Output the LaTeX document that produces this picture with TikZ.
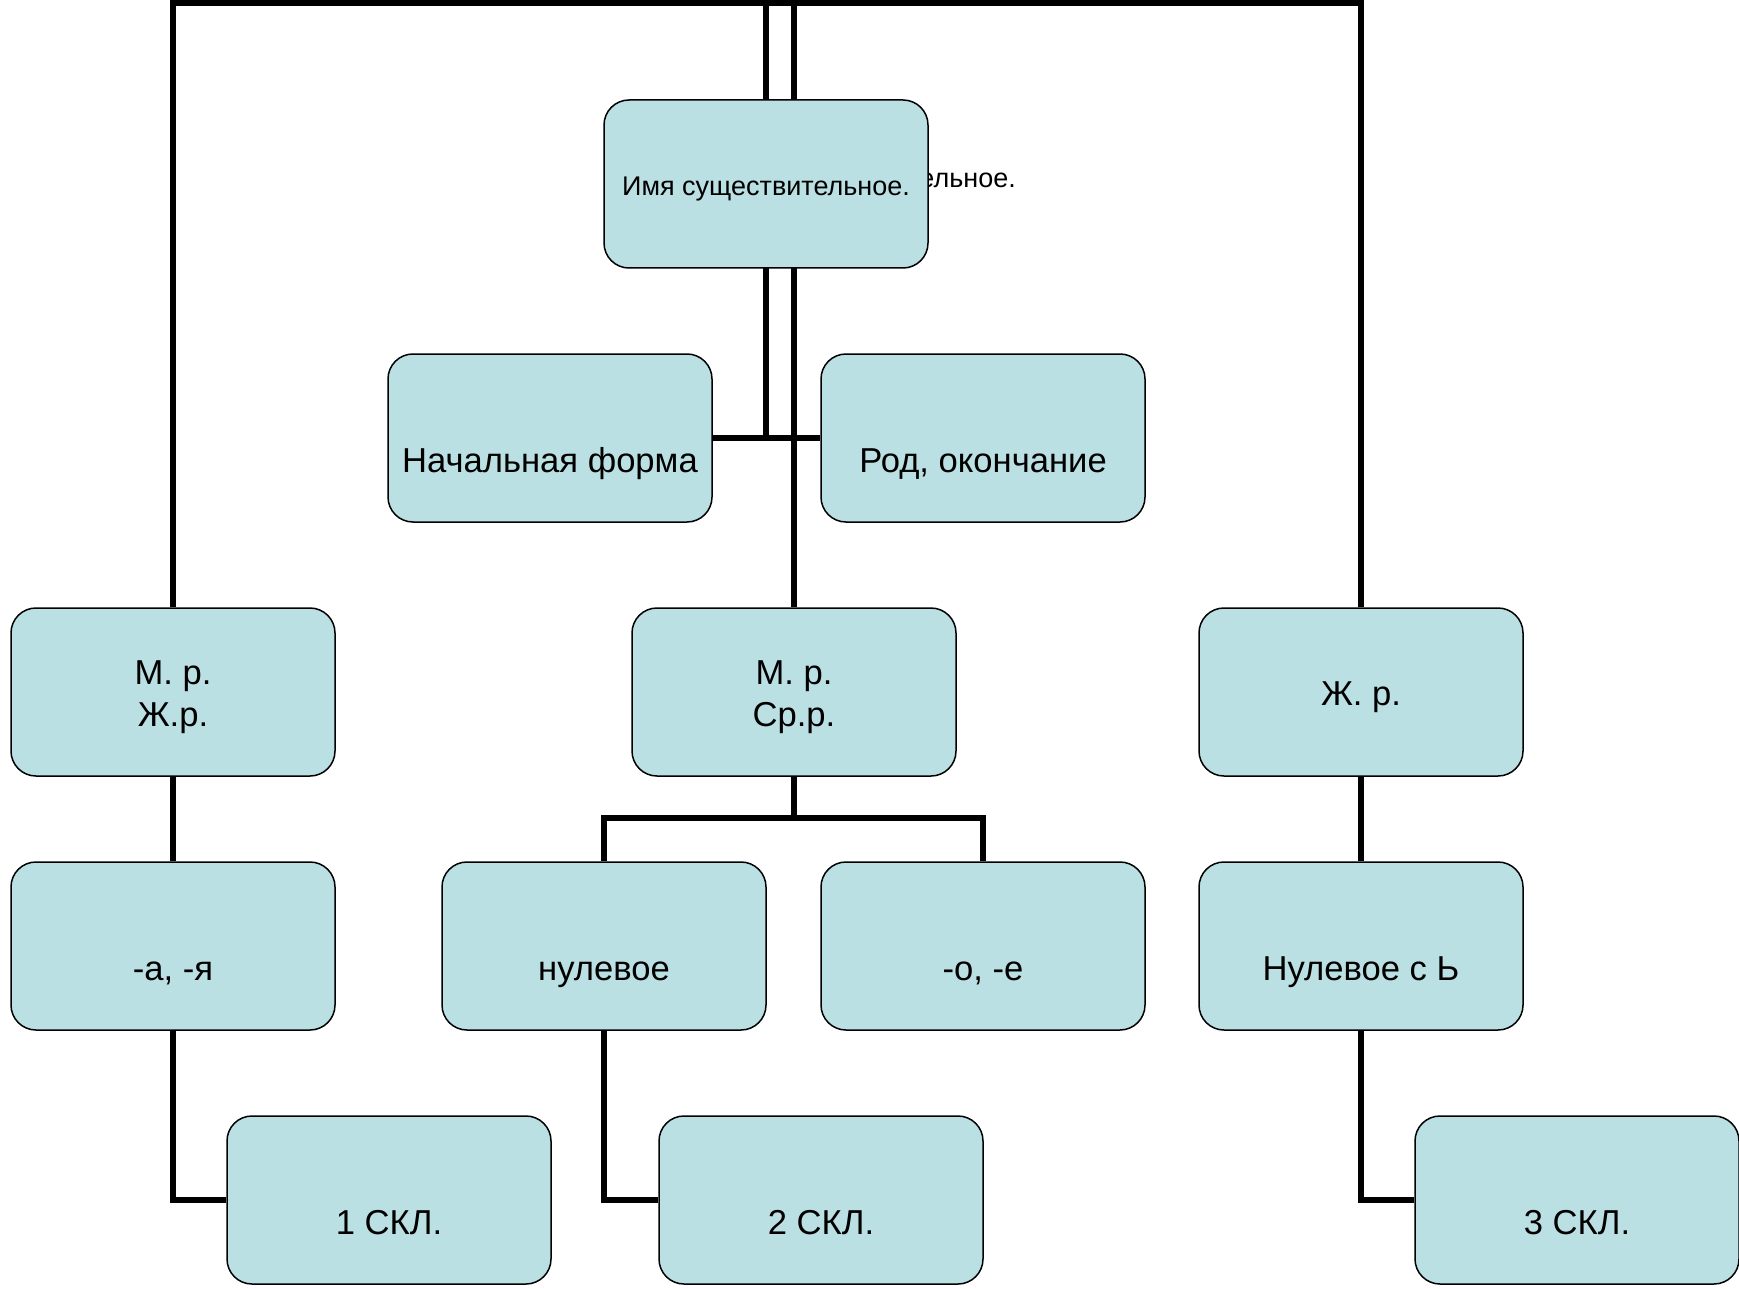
\documentclass[tikz,border=0pt]{standalone}
\usepackage{fontspec}
\setmainfont{Liberation Sans}
\usetikzlibrary{backgrounds}
\definecolor{boxfill}{RGB}{187,224,227}
\begin{document}
\begin{tikzpicture}[x=1pt,y=-1pt,
  box/.style={draw=black, line width=1.5pt, fill=boxfill, rounded corners=25pt,
    minimum width=324pt, minimum height=168pt, inner sep=0pt, align=center,
    font=\fontsize{34.6pt}{42pt}\selectfont},
  oneline/.style={text height=27.6pt, text depth=0pt},
  twoline/.style={text height=69.4pt, text depth=0pt},
  link/.style={draw=black, line width=6pt, line join=miter}]
\useasboundingbox (0,0) rectangle (1739,1289);
% partly hidden text behind the top box
\node[anchor=base east, inner sep=0pt, font=\fontsize{27pt}{32pt}\selectfont] (ghost) at (1016,188) {Имя существительное.};
% boxes
\node[box, font=\fontsize{27pt}{32pt}\selectfont, text height=23.6pt, text depth=0pt] (top) at (766,184) {Имя существительное.};
\node[box, twoline] (nach) at (550,438) {\strut\\Начальная форма};
\node[box, twoline] (rod) at (983,438) {\strut\\Род, окончание};
\node[box, twoline] (mzh) at (173,692) {М. р.\\Ж.р.};
\node[box, twoline] (msr) at (794,692) {М. р.\\Ср.р.};
\node[box, oneline] (zh) at (1361,692) {Ж. р.};
\node[box, twoline] (aya) at (173,946) {\strut\\-а, -я};
\node[box, twoline] (nul) at (604,946) {\strut\\нулевое};
\node[box, twoline] (oe) at (983,946) {\strut\\-о, -е};
\node[box, twoline] (nulb) at (1361,946) {\strut\\Нулевое с Ь};
\node[box, twoline] (s1) at (389,1200) {\strut\\1 СКЛ.};
\node[box, twoline] (s2) at (821,1200) {\strut\\2 СКЛ.};
\node[box, twoline] (s3) at (1577,1200) {\strut\\3 СКЛ.};
\coordinate (tl) at (172,3);
\coordinate (b2) at (794,818);
% connectors behind the boxes
\begin{scope}[on background layer]
\draw[link] (mzh.north) -- (mzh.north |- tl) -- (zh.north |- tl) -- (zh.north);
\draw[link] (top.center |- tl) -- (top.center |- nach.east);
\draw[link] (msr.north |- tl) -- (msr.north);
\draw[link] (nach.east) -- (rod.west);
\draw[link] (msr.south) -- (b2);
\draw[link] (nul.north) -- (nul.north |- b2) -- (oe.north |- b2) -- (oe.north);
\draw[link] (mzh.south) -- (aya.north);
\draw[link] (aya.south) |- (s1.west);
\draw[link] (nul.south) |- (s2.west);
\draw[link] (zh.south) -- (nulb.north);
\draw[link] (nulb.south) |- (s3.west);
\end{scope}
\end{tikzpicture}
\end{document}
